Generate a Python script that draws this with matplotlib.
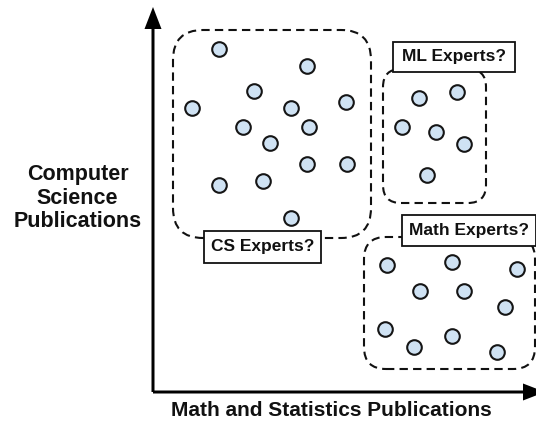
#Conceptual scatter sketch: who is a CS / ML / Math expert
import matplotlib
matplotlib.use("Agg")
import matplotlib.pyplot as plt
from matplotlib.patches import FancyBboxPatch, Rectangle

plt.rcParams['font.family'] = ['Liberation Sans', 'DejaVu Sans']

#Points per group (x = math/stats pubs, y = CS pubs, arbitrary units)
cs_x = [66, 154, 101, 39, 138, 193, 90, 156, 117, 154, 194, 66, 110, 138]
cs_y = [343, 326, 301, 284, 284, 290, 265, 265, 249, 228, 228, 207, 211, 174]
ml_x = [266, 304, 249, 283, 311, 274]
ml_y = [294, 300, 265, 260, 248, 217]
math_x = [234, 299, 364, 267, 311, 352, 232, 261, 299, 344]
math_y = [127, 130, 123, 101, 101, 85, 63, 45, 56, 40]

#Dashed group outlines: (x0, y0, x1, y1, corner radius)
groups = {
    "CS": (20, 154, 218, 362, 30),
    "ML": (230, 189, 333, 323, 18),
    "Math": (211, 23, 382, 155, 22),
}
#Label boxes: text, (x0, y0, x1, y1)
labels = [
    ("CS Experts?", (51, 129, 168, 161)),
    ("ML Experts?", (240, 320, 362, 350)),
    ("Math Experts?", (249, 146, 383, 177)),
]

fig = plt.figure(figsize=(5.36, 4.21), dpi=100)
ax = fig.add_axes([0, 0, 1, 1])
ax.set_xlim(-153, 383)
ax.set_ylim(-29, 392)
ax.axis("off")

for x0, y0, x1, y1, r in groups.values():
    ax.add_patch(FancyBboxPatch((x0, y0), x1 - x0, y1 - y0,
                                boxstyle=f"round,pad=0,rounding_size={r}",
                                fill=False, ec="#111111", lw=1.5,
                                ls=(0, (4, 2.5)), zorder=1))

for xs, ys in [(cs_x, cs_y), (ml_x, ml_y), (math_x, math_y)]:
    ax.plot(xs, ys, "o", ms=10.5, mfc="#cfe2f3", mec="#151515", mew=1.5,
            ls="none", zorder=3)

for txt, (x0, y0, x1, y1) in labels:
    ax.add_patch(Rectangle((x0, y0), x1 - x0, y1 - y0, fc="white",
                           ec="#111111", lw=1.3, zorder=4))
    ax.text((x0 + x1) / 2, (y0 + y1) / 2, txt, ha="center", va="center",
            fontsize=12.5, fontweight="bold", color="#111111", zorder=5)

#axes arrows
ax.arrow(0, 0, 0, 385, width=3, head_width=17, head_length=22,
         length_includes_head=True, fc="black", ec="none", zorder=2)
ax.arrow(0, 0, 392, 0, width=3, head_width=17, head_length=22,
         length_includes_head=True, fc="black", ec="none", zorder=2)

ax.text(178, -19, "Math and Statistics Publications", ha="center", va="center",
        fontsize=15, fontweight="bold", color="#111111")
ax.text(-75.5, 194, "Computer\nScience\nPublications", ha="center", va="center",
        fontsize=15.5, fontweight="bold", color="#111111", linespacing=1.15)

fig.savefig("out.png", dpi=100)
